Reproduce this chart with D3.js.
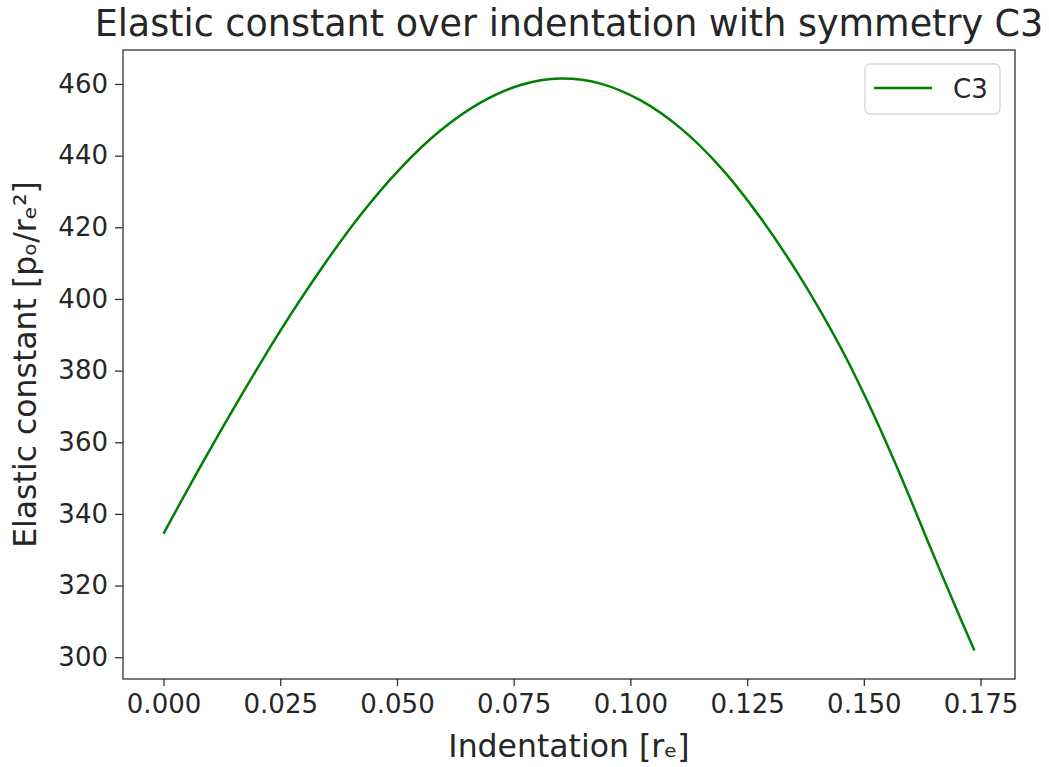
<!DOCTYPE html>
<html>
<head>
<meta charset="utf-8">
<script src="https://cdn.jsdelivr.net/npm/d3@7"></script>
<style>
  body { margin: 0; background: #fff; }
  text { font-family: 'DejaVu Sans', sans-serif; fill: #262626; }
  .axis path, .axis line { stroke: #333; }
</style>
</head>
<body>
<svg id="chart" width="1049" height="767"></svg>
<script>
// Data
const indentation = [0, 0.0078, 0.0164, 0.025, 0.0336, 0.0421, 0.0507, 0.0593, 0.0679, 0.0765, 0.085, 0.0936, 0.1022, 0.1108, 0.1194, 0.1279, 0.1365, 0.1451, 0.1515, 0.158, 0.1644, 0.1708, 0.1737];
const elasticC3 = [334.5, 353.0, 372.5, 391.1, 408.1, 423.3, 436.4, 447.0, 454.8, 459.7, 461.5, 460.1, 455.4, 447.6, 436.6, 422.6, 405.8, 386.3, 369.4, 350.3, 330.2, 310.5, 301.9];
const xTicks = [0, 0.025, 0.05, 0.075, 0.1, 0.125, 0.15, 0.175];
const yTicks = [300, 320, 340, 360, 380, 400, 420, 440, 460];
const seriesName = 'C3';
const titleText = 'Elastic constant over indentation with symmetry C3';
const xLabelText = 'Indentation [r\u2091]';
const yLabelText = 'Elastic constant [p\u2092/r\u2091\u00b2]';

const margin = { left: 123, right: 34, top: 50, bottom: 88 };
const width = 1049 - margin.left - margin.right;
const height = 767 - margin.top - margin.bottom;

const points = indentation.map((x, i) => ({ x: x, y: elasticC3[i] }));

// matplotlib style 5% padding
function paddedExtent(values) {
  const [lo, hi] = d3.extent(values);
  const pad = (hi - lo) * 0.05;
  return [lo - pad, hi + pad];
}

const xScale = d3.scaleLinear().domain(paddedExtent(indentation)).range([0, width]);
const yScale = d3.scaleLinear().domain(paddedExtent(elasticC3)).range([height, 0]);

const svg = d3.select('#chart');
const g = svg.append('g').attr('transform', `translate(${margin.left},${margin.top})`);

//Draw Line
const line = d3
  .line()
  .x(d => xScale(d.x))
  .y(d => yScale(d.y))
  .curve(d3.curveCatmullRom);

g.append('path')
  .datum(points)
  .attr('fill', 'none')
  .attr('stroke', '#008000')
  .attr('stroke-width', 2.5)
  .attr('d', line);

//Draw Axis
const xAxis = d3.axisBottom(xScale).tickValues(xTicks).tickFormat(d3.format('.3f')).tickSize(7).tickPadding(9);
const yAxis = d3.axisLeft(yScale).tickValues(yTicks).tickFormat(d3.format('d')).tickSize(8).tickPadding(7);

g.append('g')
  .attr('class', 'axis')
  .attr('transform', `translate(0,${height})`)
  .call(xAxis)
  .call(a => a.select('.domain').remove());

g.append('g')
  .attr('class', 'axis')
  .call(yAxis)
  .call(a => a.select('.domain').remove());

g.selectAll('.axis line').attr('stroke-width', 1.3);
g.selectAll('.axis text').attr('font-size', 26).attr('font-family', "'DejaVu Sans', sans-serif").attr('fill', '#262626');

// frame
g.append('rect')
  .attr('width', width)
  .attr('height', height)
  .attr('fill', 'none')
  .attr('stroke', '#333')
  .attr('stroke-width', 1.3);

//Labels
svg.append('text')
  .attr('x', margin.left + width / 2)
  .attr('y', 36)
  .attr('text-anchor', 'middle')
  .attr('font-size', 36.5)
  .text(titleText);

svg.append('text')
  .attr('x', margin.left + width / 2)
  .attr('y', 757)
  .attr('text-anchor', 'middle')
  .attr('font-size', 31.5)
  .text(xLabelText);

svg.append('text')
  .attr('transform', `translate(36,${margin.top + height / 2}) rotate(-90)`)
  .attr('text-anchor', 'middle')
  .attr('font-size', 31.5)
  .text(yLabelText);

//Legend
const legend = svg.append('g').attr('transform', 'translate(865,64)');
legend.append('rect')
  .attr('width', 135)
  .attr('height', 50)
  .attr('rx', 5)
  .attr('fill', 'rgba(255,255,255,0.8)')
  .attr('stroke', '#d6d6d6')
  .attr('stroke-width', 1.3);
legend.append('line')
  .attr('x1', 9)
  .attr('x2', 67)
  .attr('y1', 24)
  .attr('y2', 24)
  .attr('stroke', '#008000')
  .attr('stroke-width', 2.5);
legend.append('text')
  .attr('x', 88)
  .attr('y', 33.5)
  .attr('font-size', 26)
  .text(seriesName);
</script>
</body>
</html>
